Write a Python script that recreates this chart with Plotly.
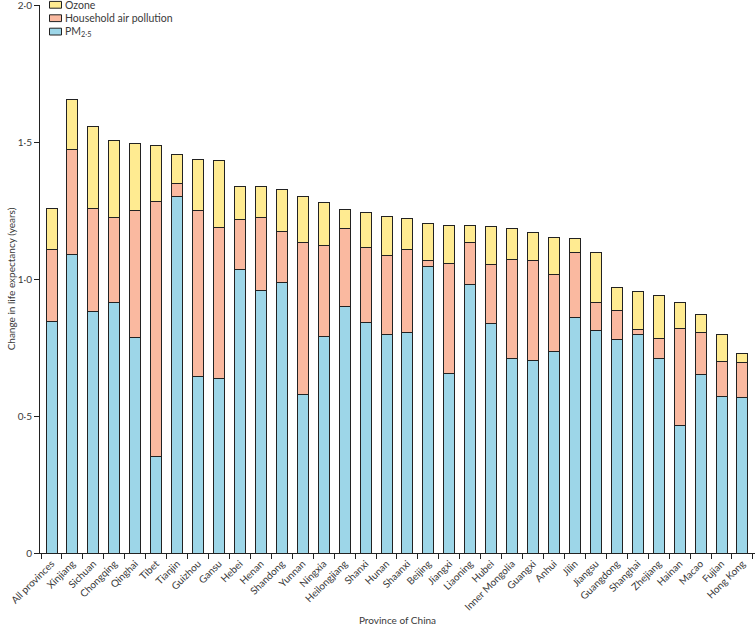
import plotly.graph_objects as go

provinces = ["All provinces", "Xinjiang", "Sichuan", "Chongqing", "Qinghai", "Tibet", "Tianjin",
             "Guizhou", "Gansu", "Hebei", "Henan", "Shandong", "Yunnan", "Ningxia", "Heilongjiang",
             "Shanxi", "Hunan", "Shaanxi", "Beijing", "Jiangxi", "Liaoning", "Hubei", "Inner Mongolia",
             "Guangxi", "Anhui", "Jilin", "Jiangsu", "Guangdong", "Shanghai", "Zhejiang", "Hainan",
             "Macao", "Fujian", "Hong Kong"]

pm25 = [0.844, 1.091, 0.882, 0.916, 0.785, 0.352, 1.302, 0.645, 0.636, 1.034, 0.959, 0.988,
        0.580, 0.790, 0.899, 0.841, 0.799, 0.805, 1.044, 0.654, 0.979, 0.838, 0.711, 0.703,
        0.734, 0.860, 0.813, 0.780, 0.796, 0.711, 0.464, 0.650, 0.572, 0.567]

household = [0.264, 0.382, 0.376, 0.308, 0.464, 0.930, 0.048, 0.604, 0.551, 0.183, 0.266, 0.187,
             0.554, 0.334, 0.286, 0.275, 0.285, 0.303, 0.024, 0.404, 0.155, 0.214, 0.359, 0.365,
             0.281, 0.237, 0.101, 0.105, 0.020, 0.073, 0.356, 0.156, 0.126, 0.128]

ozone = [0.150, 0.182, 0.300, 0.280, 0.246, 0.207, 0.103, 0.186, 0.247, 0.121, 0.111, 0.151,
         0.166, 0.155, 0.070, 0.127, 0.145, 0.112, 0.135, 0.138, 0.061, 0.139, 0.114, 0.101,
         0.136, 0.050, 0.181, 0.085, 0.138, 0.154, 0.095, 0.063, 0.100, 0.034]

series_names = ["Ozone", "Household air pollution", "PM<sub>2·5</sub>"]
series_colors = ["#FFEB91", "#FAB9A0", "#9DD6E8"]

y_tickvals = [0, 0.5, 1.0, 1.5, 2.0]
y_ticktext = ["0", "0·5", "1·0", "1·5", "2·0"]

FONT = "Lato"
TXT = "#3a3a3a"
EDGE = "#222222"
line = dict(color=EDGE, width=1)

W, H = 756, 626
ML, MR, MT, MB = 40, 1, 5, 73
PW, PH = W - ML - MR, H - MT - MB

fig = go.Figure()
for vals, name, col in [(pm25, series_names[2], series_colors[2]),
                        (household, series_names[1], series_colors[1]),
                        (ozone, series_names[0], series_colors[0])]:
    fig.add_trace(go.Bar(x=provinces, y=vals, name=name,
                         marker=dict(color=col, line=line), width=0.525, showlegend=False))

# custom compact legend (paper coordinates)
def px_x(p):
    return (p - ML) / PW

def px_y(p):
    return (H - MB - p) / PH

shapes, annotations = [], []
row_centers = [4.8, 18.2, 31.6]
for name, col, cy in zip(series_names, series_colors, row_centers):
    shapes.append(dict(type="rect", xref="paper", yref="paper",
                       x0=px_x(49.5), x1=px_x(61.5), y0=px_y(cy + 3.4), y1=px_y(cy - 3.4),
                       fillcolor=col, line=dict(color=EDGE, width=1)))
    annotations.append(dict(xref="paper", yref="paper", x=px_x(63), y=px_y(cy),
                            xanchor="left", yanchor="middle", text=name, showarrow=False,
                            font=dict(family=FONT, size=10.5, color=TXT)))

fig.update_layout(
    barmode="stack",
    width=W, height=H,
    margin=dict(l=ML, r=MR, t=MT, b=MB),
    paper_bgcolor="white", plot_bgcolor="white",
    font=dict(family=FONT, size=10, color=TXT),
    showlegend=False,
    shapes=shapes, annotations=annotations,
)
fig.update_xaxes(
    range=[-0.55, 33.6], showline=True, linecolor=EDGE, linewidth=1,
    ticks="outside", tickson="boundaries", ticklen=5, tickcolor=EDGE,
    tickangle=-45, tickfont=dict(family=FONT, size=10, color=TXT),
    title=dict(text="Province of China", font=dict(family=FONT, size=10, color=TXT), standoff=6),
    showgrid=False, zeroline=False, automargin=False,
)
fig.update_yaxes(
    range=[0, 2.0], showline=True, linecolor=EDGE, linewidth=1,
    ticks="outside", ticklen=5, tickcolor=EDGE, ticklabeloverflow="allow",
    tickvals=y_tickvals, ticktext=y_ticktext, tickfont=dict(family=FONT, size=10, color=TXT),
    title=dict(text="Change in life expectancy (years)", font=dict(family=FONT, size=10, color=TXT), standoff=0),
    showgrid=False, zeroline=False, automargin=False,
)

fig.write_html("out.html", config={"displayModeBar": False},
               post_script="document.body.style.margin='0';document.body.style.overflow='hidden';")
